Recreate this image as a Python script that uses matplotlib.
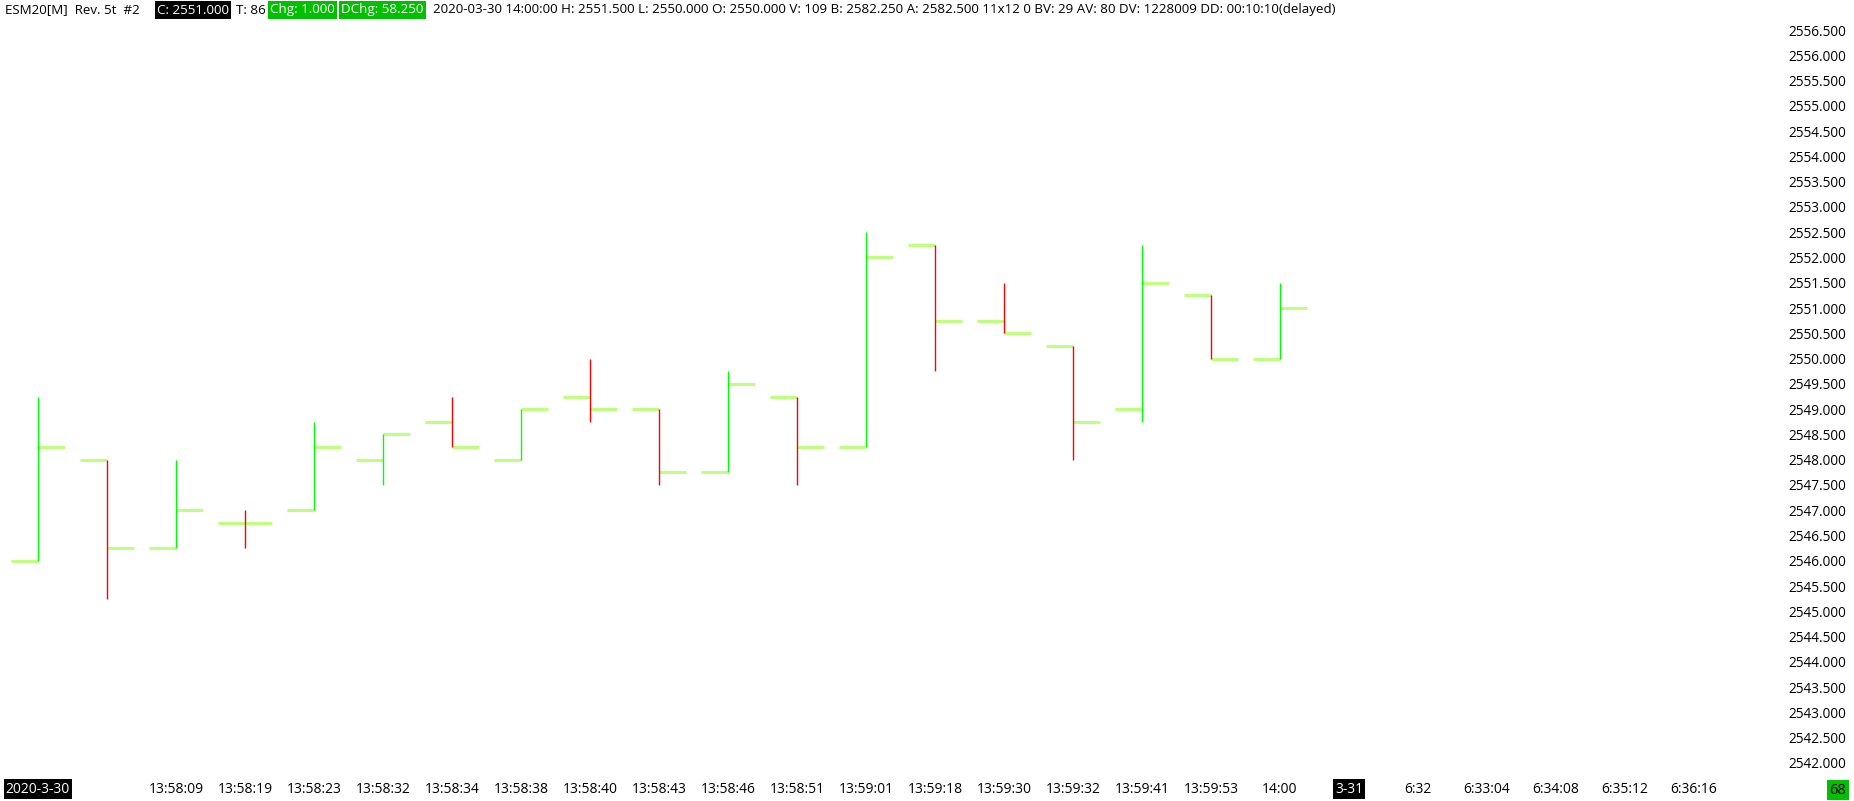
import matplotlib
matplotlib.use("Agg")
import matplotlib.pyplot as plt

plt.rcParams['font.family'] = ['Open Sans', 'DejaVu Sans']

# OHLC bars (5-tick reversal chart)
opens = [2546.0, 2548.0, 2546.25, 2546.75, 2547.0, 2548.0, 2548.75, 2548.0, 2549.25, 2549.0,
         2547.75, 2549.25, 2548.25, 2552.25, 2550.75, 2550.25, 2549.0, 2551.25, 2550.0]
highs = [2549.25, 2548.0, 2548.0, 2547.0, 2548.75, 2548.5, 2549.25, 2549.0, 2550.0, 2549.0,
         2549.75, 2549.25, 2552.5, 2552.25, 2551.5, 2550.25, 2552.25, 2551.25, 2551.5]
lows = [2546.0, 2545.25, 2546.25, 2546.25, 2547.0, 2547.5, 2548.25, 2548.0, 2548.75, 2547.5,
        2547.75, 2547.5, 2548.25, 2549.75, 2550.5, 2548.0, 2548.75, 2550.0, 2550.0]
closes = [2548.25, 2546.25, 2547.0, 2546.75, 2548.25, 2548.5, 2548.25, 2549.0, 2549.0, 2547.75,
          2549.5, 2548.25, 2552.0, 2550.75, 2550.5, 2548.75, 2551.5, 2550.0, 2551.0]

x_tick_pos = [0] + list(range(2, 25))
x_tick_labels = ['2020-3-30', '13:58:09', '13:58:19', '13:58:23', '13:58:32', '13:58:34',
                 '13:58:38', '13:58:40', '13:58:43', '13:58:46', '13:58:51', '13:59:01',
                 '13:59:18', '13:59:30', '13:59:32', '13:59:41', '13:59:53', '14:00',
                 '3-31', '6:32', '6:33:04', '6:34:08', '6:35:12', '6:36:16']
boxed_labels = ['2020-3-30', '3-31']

y_ticks = [2542.0 + 0.5 * k for k in range(30)]

# header pieces: (text, text colour, box colour)
header_parts = [
    ('ESM20[M]  Rev. 5t  #2', 'black', None),
    ('C: 2551.000', 'white', 'black'),
    ('T: 86', 'black', None),
    ('Chg: 1.000', 'white', '#00c000'),
    ('DChg: 58.250', 'white', '#00c000'),
    ('2020-03-30 14:00:00 H: 2551.500 L: 2550.000 O: 2550.000 V: 109 B: 2582.250 '
     'A: 2582.500 11x12 0 BV: 29 AV: 80 DV: 1228009 DD: 00:10:10(delayed)', 'black', None),
]
header_x = [5, 157, 236, 270, 341, 433]
corner_count = '68'

UP = '#00ff00'
DOWN = '#ff0000'
TICK = '#bfff80'
BOXGREEN = '#00c000'

W, H = 1854, 801
fig = plt.figure(figsize=(W / 100, H / 100), dpi=100)
ax = fig.add_axes([0, 25 / H, 1780 / W, 776 / H])

n = len(opens)
xs = list(range(n))
half = 0.39
colors = [UP if c > o else DOWN for o, c in zip(opens, closes)]

ax.hlines(opens, [x - half for x in xs], xs, color=TICK, linewidth=2.2, zorder=2)
ax.hlines(closes, xs, [x + half for x in xs], color=TICK, linewidth=2.2, zorder=2)
ax.vlines(xs, lows, highs, color=colors, linewidth=1.0, zorder=3)

ax.set_xlim(-38 / 69, (1780 - 38) / 69)
ax.set_ylim(2542 - 13 / 50.55, 2542 + 763 / 50.55)

for s in ax.spines.values():
    s.set_visible(False)

ax.yaxis.tick_right()
ax.set_yticks(y_ticks)
ax.set_yticklabels(['%.3f' % v for v in y_ticks])
ax.tick_params(axis='y', length=0, pad=47.5, labelsize=9.8, labelcolor='black')
for tl in ax.get_yticklabels():
    tl.set_horizontalalignment('right')

ax.set_xticks(x_tick_pos)
ax.set_xticklabels(x_tick_labels)
ax.tick_params(axis='x', length=0, pad=4, labelsize=10, labelcolor='black')
for tl in ax.get_xticklabels():
    if tl.get_text() in boxed_labels:
        tl.set_color('white')
        tl.set_bbox(dict(facecolor='black', edgecolor='none', pad=1.5))

# header line
hy = 1 - 10 / H
for (txt, col, box), x0 in zip(header_parts, header_x):
    t = fig.text(x0 / W, hy, txt, fontsize=9.6, va='center', color=col)
    if box:
        t.set_bbox(dict(facecolor=box, edgecolor='none', pad=1.5))

fig.text(1838 / W, 1 - 790 / H, corner_count, fontsize=10.5, ha='center', va='center',
         color='black', bbox=dict(facecolor=BOXGREEN, edgecolor='none', pad=2))

fig.savefig('out.png', dpi=100, facecolor='white')
